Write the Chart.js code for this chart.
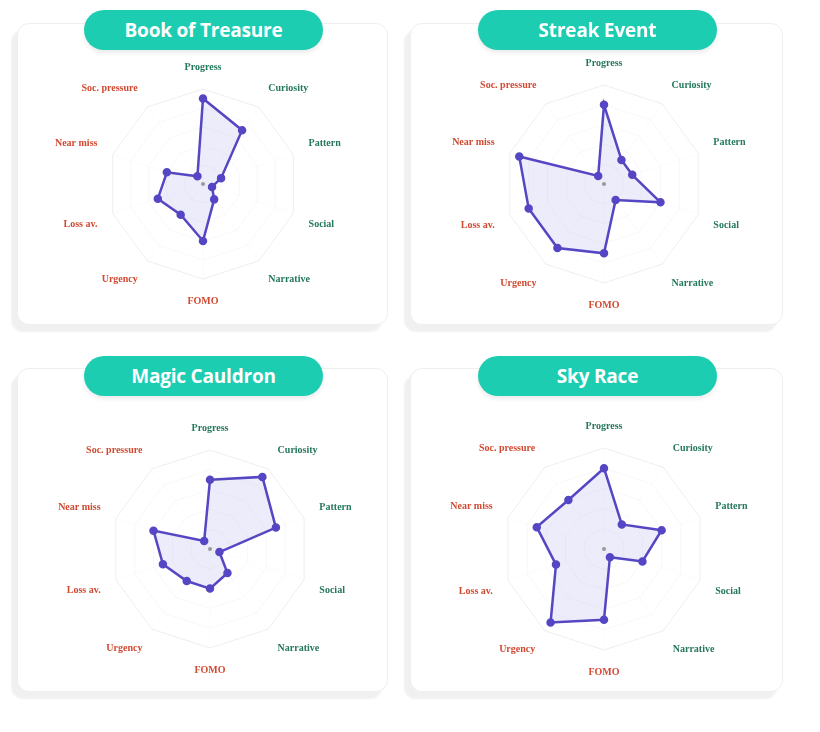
<!DOCTYPE html>
<html>
<head>
<meta charset="utf-8">
<script src="https://cdn.jsdelivr.net/npm/chart.js@4.4.1/dist/chart.umd.min.js"></script>
<style>
  html, body { margin: 0; padding: 0; background: #fff; }
  body { width: 820px; height: 732px; position: relative; overflow: hidden; font-family: "Open Sans", sans-serif; }
  .card {
    position: absolute;
    background: #fff;
    border: 1px solid #efefef;
    border-radius: 12px;
    box-shadow: -6px 7px 2px rgba(0, 0, 0, 0.06);
    box-sizing: border-box;
  }
  .pill {
    position: absolute;
    width: 239px; height: 40px;
    line-height: 40px;
    border-radius: 20px;
    background: #1dcdb2;
    color: #fff;
    text-align: center;
    font-weight: 700;
    font-size: 19px;
    letter-spacing: -0.2px;
    box-shadow: 0 3px 4px rgba(0, 0, 0, 0.08);
    z-index: 2;
  }
  .chart-box { position: absolute; z-index: 1; }
</style>
</head>
<body>
<script>
// データ
const categories = ['Progress', 'Curiosity', 'Pattern', 'Social', 'Narrative', 'FOMO', 'Urgency', 'Loss av.', 'Near miss', 'Soc. pressure'];
const titles = ['Book of Treasure', 'Streak Event', 'Magic Cauldron', 'Sky Race'];
const bookOfTreasure = [9, 7, 2, 1, 2, 6, 4, 5, 4, 1];
const streakEvent = [8, 3, 3, 6, 2, 7, 8, 8, 9, 1];
const magicCauldron = [7, 9, 7, 1, 3, 4, 4, 5, 6, 1];
const skyRace = [8, 3, 6, 4, 1, 7, 9, 5, 7, 6];
const scaleMax = 10;
const scaleStep = 2;

const seriesList = [bookOfTreasure, streakEvent, magicCauldron, skyRace];

// カードとキャンバスの配置
const layouts = [
    { card: [17, 23, 371, 302], pill: [84, 10], canvas: [17, 61, 372, 246] },
    { card: [410, 23, 373, 302], pill: [478, 10], canvas: [419, 57, 370, 254] },
    { card: [17, 368, 371, 324], pill: [84, 356], canvas: [25, 422, 370, 254] },
    { card: [410, 368, 373, 324], pill: [478, 356], canvas: [419, 420, 370, 258] }
];

const green = '#25785a';
const red = '#d14a32';
const lineColor = '#5546c4';

// 中心の小さな点
const centerDot = {
    id: 'centerDot',
    afterDatasetsDraw(chart) {
        const r = chart.scales.r;
        const ctx = chart.ctx;
        ctx.save();
        ctx.fillStyle = '#9a9a9a';
        ctx.beginPath();
        ctx.arc(r.xCenter, r.yCenter, 2, 0, Math.PI * 2);
        ctx.fill();
        ctx.restore();
    }
};

titles.forEach((title, i) => {
    const lay = layouts[i];

    const card = document.createElement('div');
    card.className = 'card';
    card.style.left = lay.card[0] + 'px';
    card.style.top = lay.card[1] + 'px';
    card.style.width = lay.card[2] + 'px';
    card.style.height = lay.card[3] + 'px';
    document.body.appendChild(card);

    const pill = document.createElement('div');
    pill.className = 'pill';
    pill.style.left = lay.pill[0] + 'px';
    pill.style.top = lay.pill[1] + 'px';
    pill.textContent = title;
    document.body.appendChild(pill);

    const box = document.createElement('div');
    box.className = 'chart-box';
    box.style.left = lay.canvas[0] + 'px';
    box.style.top = lay.canvas[1] + 'px';
    box.style.width = lay.canvas[2] + 'px';
    box.style.height = lay.canvas[3] + 'px';
    const canvas = document.createElement('canvas');
    box.appendChild(canvas);
    document.body.appendChild(box);

    new Chart(canvas.getContext('2d'), {
        type: 'radar',
        data: {
            labels: categories,
            datasets: [{
                label: title,
                data: seriesList[i],
                borderColor: lineColor,
                backgroundColor: 'rgba(110, 100, 215, 0.12)',
                borderWidth: 2.5,
                pointBackgroundColor: lineColor,
                pointBorderColor: lineColor,
                pointRadius: 3,
                fill: true
            }]
        },
        options: {
            responsive: true,
            maintainAspectRatio: false,
            animation: false,
            layout: { padding: 0 },
            plugins: {
                legend: { display: false },
                tooltip: { enabled: false }
            },
            scales: {
                r: {
                    min: 0,
                    max: scaleMax,
                    ticks: { display: false, stepSize: scaleStep },
                    grid: {
                        color: ctx => ctx.tick && ctx.tick.value === scaleMax ? 'rgba(0, 0, 0, 0.07)' : 'rgba(0, 0, 0, 0.03)',
                        lineWidth: 1
                    },
                    angleLines: { color: 'rgba(0, 0, 0, 0.02)' },
                    pointLabels: {
                        padding: 16,
                        font: { family: 'Liberation Serif', size: 10, weight: 'bold' },
                        color: ctx => ctx.index < 5 ? green : red
                    }
                }
            }
        },
        plugins: [centerDot]
    });
});
</script>
</body>
</html>
